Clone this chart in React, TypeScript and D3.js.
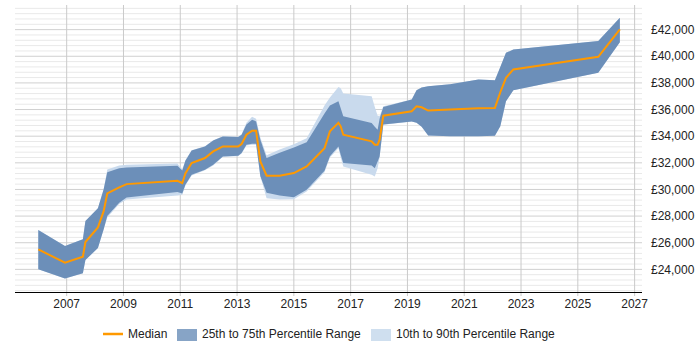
import * as d3 from "d3";

// decimal years of each sample point
const years = [
  2006.0, 2006.94, 2007.57, 2007.66, 2008.1, 2008.3, 2008.43, 2008.85, 2009.11, 2010.9,
  2011.07, 2011.18, 2011.4, 2011.87, 2012.16, 2012.5, 2013.04, 2013.16, 2013.33, 2013.53,
  2013.67, 2013.82, 2014.04, 2014.5, 2015.0, 2015.45, 2016.08, 2016.27, 2016.57, 2016.65,
  2016.74, 2017.74, 2017.85, 2017.95, 2018.02, 2018.15, 2019.15, 2019.32, 2019.5, 2019.73,
  2020.5, 2021.5, 2022.08, 2022.27, 2022.47, 2022.73, 2025.72, 2026.48,
];

const median = [
  25500, 24500, 24950, 26050, 27150, 28350, 29700, 30150, 30400, 30650,
  30470, 31200, 31980, 32360, 32860, 33230, 33230, 33410, 34110, 34410,
  34410, 32100, 31030, 31030, 31230, 31730, 33100, 34360, 35000, 34740,
  34110, 33610, 33360, 33360, 33740, 35540, 35870, 36240, 36170, 35920,
  36000, 36100, 36120, 37300, 38380, 39010, 39960, 42020,
];

const p75 = [
  26960, 25750, 26260, 27640, 28590, 30000, 31300, 31600, 31650, 31780,
  31420, 32150, 32930, 33230, 33680, 33980, 33940, 34110, 34870, 35240,
  35110, 33740, 32360, 32750, 33150, 33550, 35700, 36300, 36620, 36100,
  35490, 34990, 34700, 34490, 35300, 36200, 36750, 37450, 37650, 37750,
  37900, 38250, 38200, 39200, 40260, 40510, 41140, 42900,
];

const p25 = [
  24000, 23320, 23700, 24700, 25600, 27000, 28000, 29000, 29400, 29800,
  29700, 30350, 31100, 31480, 31850, 32480, 32530, 32730, 33360, 33430,
  33430, 31000, 29750, 29550, 29420, 29970, 31400, 32500, 33230, 32600,
  31980, 31800, 31600, 32100, 32480, 34870, 35110, 35000, 34700, 34050,
  34000, 33990, 34040, 34740, 36620, 37450, 38760, 41060,
];

const p90 = [
  26960, 25750, 26260, 27640, 28590, 30000, 31500, 31800, 31850, 31950,
  31500, 32200, 32950, 33250, 33700, 34000, 33960, 34150, 35000, 35450,
  35300, 33900, 32560, 33000, 33400, 33850, 36300, 36900, 37700, 37600,
  37200, 37000, 36200, 35540, 35500, 36250, 36750, 37450, 37650, 37750,
  37900, 38250, 38200, 39200, 40260, 40510, 41140, 42900,
];

const p10 = [
  24000, 23320, 23700, 24700, 25600, 27000, 27900, 28900, 29250, 29550,
  29600, 30300, 31050, 31450, 31800, 32450, 32500, 32700, 33300, 33350,
  33350, 31000, 29340, 29250, 29270, 29850, 31300, 32400, 33100, 32400,
  31720, 31100, 30970, 31600, 32400, 34850, 35110, 35000, 34700, 34050,
  34000, 33990, 34040, 34740, 36620, 37450, 38760, 41060,
];

const xTicks = [2007, 2009, 2011, 2013, 2015, 2017, 2019, 2021, 2023, 2025, 2027];
const yTicks = [24000, 26000, 28000, 30000, 32000, 34000, 36000, 38000, 40000, 42000];

const W = 700;
const H = 350;
const left = 15;
const right = 642;
const top = 5;
const bottom = 292;

const ORANGE = "#ff9900";
const DARK = "#6c8fb9";
const LIGHT = "#c9daed";
const FONT = "Arial, 'Liberation Sans', sans-serif";

export default function App() {
  const x = d3.scaleLinear().domain([2005.18, 2027.26]).range([left, right]);
  const y = d3.scaleLinear().domain([22300, 43850]).range([bottom, top]);

  const idx = d3.range(years.length);

  const band = (lo: number[], hi: number[]) =>
    d3
      .area<number>()
      .x((i) => x(years[i]))
      .y0((i) => y(lo[i]))
      .y1((i) => y(hi[i]))(idx) || "";

  const medianLine =
    d3
      .line<number>()
      .x((i) => x(years[i]))
      .y((i) => y(median[i]))(idx) || "";

  const minor = d3.range(22400, 43850, 400).filter((v) => v % 2000 !== 0);
  const fmt = (v: number) => "£" + d3.format(",")(v);

  return (
    <svg
      width={W}
      height={H}
      style={{ position: "absolute", left: 0, top: 0, background: "#fff" }}
      fontFamily={FONT}
    >
      {/* horizontal grid */}
      {minor.map((v) => (
        <line key={"m" + v} x1={left} x2={right} y1={y(v)} y2={y(v)} stroke="#e9e9e9" />
      ))}
      {yTicks.map((v) => (
        <line key={"g" + v} x1={left} x2={right} y1={y(v)} y2={y(v)} stroke="#d0d0d0" />
      ))}
      {/* vertical grid */}
      {xTicks.map((t) => (
        <line key={"v" + t} x1={x(t)} x2={x(t)} y1={top} y2={bottom + 4} stroke="#cacaca" />
      ))}

      <path d={band(p10, p90)} fill={LIGHT} />
      <path d={band(p25, p75)} fill={DARK} />
      <path d={medianLine} fill="none" stroke={ORANGE} strokeWidth={2} />

      {/* x axis */}
      <line x1={left} x2={right} y1={bottom + 0.5} y2={bottom + 0.5} stroke="#000" />
      {xTicks.map((t) => (
        <text key={"xt" + t} x={x(t)} y={bottom + 16} textAnchor="middle" fontSize={12} fill="#222">
          {t}
        </text>
      ))}

      {/* y labels */}
      {yTicks.map((v) => (
        <text key={"yt" + v} x={651} y={y(v)} dy="0.35em" fontSize={12} fill="#222">
          {fmt(v)}
        </text>
      ))}

      {/* legend */}
      <g fontSize={12} fill="#222">
        <line x1={103} x2={123} y1={334} y2={334} stroke={ORANGE} strokeWidth={2.5} />
        <text x={128} y={334} dy="0.35em">Median</text>
        <rect x={177} y={329} width={20} height={12} fill="#87a4c6" />
        <text x={202} y={334} dy="0.35em">25th to 75th Percentile Range</text>
        <rect x={371} y={329} width={20} height={12} fill="#cfdfef" />
        <text x={396} y={334} dy="0.35em">10th to 90th Percentile Range</text>
      </g>
    </svg>
  );
}
